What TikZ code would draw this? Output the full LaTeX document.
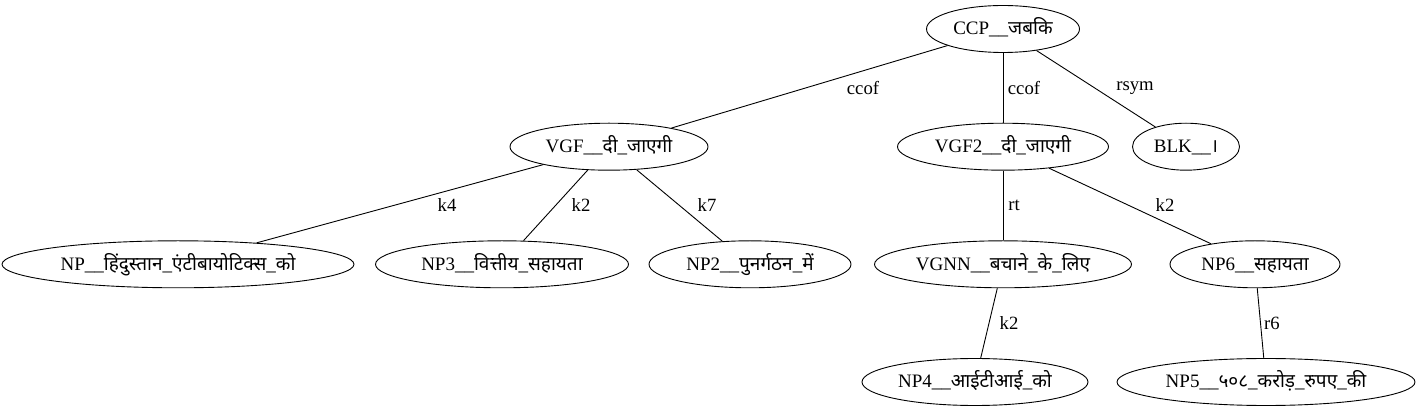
\documentclass[tikz,border=0pt]{standalone}
\usepackage{fontspec}
\setmainfont{Liberation Serif}
\newfontfamily\deva[Script=Devanagari]{Noto Sans}
\usetikzlibrary{shapes.geometric}
\tikzset{
  nd/.style={ellipse, draw, line width=0.9pt, minimum width=#1pt, minimum height=47pt,
    inner sep=0pt, text height=15pt, text depth=3pt, font=\fontsize{19pt}{22pt}\selectfont},
  elab/.style={inner sep=0pt, font=\fontsize{18.7pt}{22pt}\selectfont},
  edge/.style={line width=0.9pt}
}
\newcommand{\dv}[1]{{\deva #1}}
\newcommand{\tx}[1]{\makebox[0pt]{#1}}
\begin{document}
\begin{tikzpicture}[x=1pt,y=-1pt]
\useasboundingbox (0,0) rectangle (1419,411);
% nodes
\node[nd=153] (ccp)  at (1003,29)    {\tx{CCP\_\_\dv{जबकि}}};
\node[nd=198] (vgf)  at (609,146.7)  {\tx{VGF\_\_\dv{दी}\_\dv{जाएगी}}};
\node[nd=211] (vgf2) at (1003,146.7) {\tx{VGF2\_\_\dv{दी}\_\dv{जाएगी}}};
\node[nd=107] (blk)  at (1186,146.7) {\tx{BLK\_\_\dv{।}}};
\node[nd=352] (np)   at (178,264.3)  {\tx{NP\_\_\dv{हिंदुस्तान}\_\dv{एंटीबायोटिक्स}\_\dv{को}}};
\node[nd=253] (np3)  at (502,264.3)  {\tx{NP3\_\_\dv{वित्तीय}\_\dv{सहायता}}};
\node[nd=202] (np2)  at (750,264.3)  {\tx{NP2\_\_\dv{पुनर्गठन}\_\dv{में}}};
\node[nd=257] (vgnn) at (1003,264.3) {\tx{VGNN\_\_\dv{बचाने}\_\dv{के}\_\dv{लिए}}};
\node[nd=170] (np6)  at (1255,264.3) {\tx{NP6\_\_\dv{सहायता}}};
\node[nd=226] (np4)  at (975,382)    {\tx{NP4\_\_\dv{आईटीआई}\_\dv{को}}};
\node[nd=298] (np5)  at (1266,382)   {\tx{NP5\_\_\dv{५०८}\_\dv{करोड़}\_\dv{रुपए}\_\dv{की}}};
% edges
\draw[edge] (ccp) -- (vgf);
\draw[edge] (ccp) -- (vgf2);
\draw[edge] (ccp) -- (blk);
\draw[edge] (vgf) -- (np);
\draw[edge] (vgf) -- (np3);
\draw[edge] (vgf) -- (np2);
\draw[edge] (vgf2) -- (vgnn);
\draw[edge] (vgf2) -- (np6);
\draw[edge] (vgnn) -- (np4);
\draw[edge] (np6) -- (np5);
% edge labels
\node[elab] (l1)  at (863,88)    {ccof};
\node[elab] (l2)  at (1024,88)   {ccof};
\node[elab] (l3)  at (1135,88)   {rsym};
\node[elab] (l4)  at (447,205.5) {k4};
\node[elab] (l5)  at (581,205.5) {k2};
\node[elab] (l6)  at (707,205.5) {k7};
\node[elab] (l7)  at (1014,205.5) {rt};
\node[elab] (l8)  at (1165,205.5) {k2};
\node[elab] (l9)  at (1009,323)  {k2};
\node[elab] (l10) at (1272,323)  {r6};
\end{tikzpicture}
\end{document}
